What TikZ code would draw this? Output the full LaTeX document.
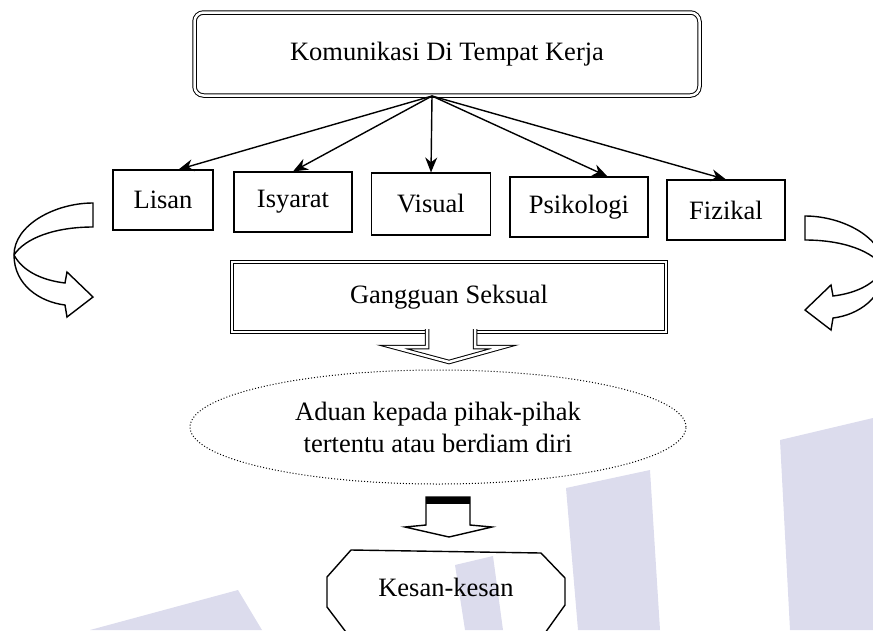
\documentclass[tikz,border=0pt]{standalone}
\usepackage{fontspec}
\setmainfont{Liberation Serif}
\usetikzlibrary{arrows.meta,shapes.geometric}
\definecolor{tanda}{RGB}{220,220,237}

\begin{document}
\begin{tikzpicture}[x=1pt,y=-1pt,line width=1.4pt,>={Stealth[length=15pt,width=12pt]},
  font=\fontsize{26.5}{32}\selectfont,
  kotak/.style={rectangle,draw,line width=1.1pt,minimum height=60pt,inner sep=0pt},
  garis2/.style={draw,double,double distance=2.5pt,line width=1pt}]
\useasboundingbox (0,0) rectangle (873,630);
% faint watermark behind the chart
\fill[tanda] (90,630) -- (238,590) -- (262,630) -- cycle;
\fill[tanda] (455,565) -- (493,556) -- (503,630) -- (465,630) -- cycle;
\fill[tanda] (566,488) -- (650,470) -- (660,630) -- (578,630) -- cycle;
\fill[tanda] (780,440) -- (873,418) -- (873,630) -- (790,630) -- cycle;
  % Define the nodes
\node[garis2,rounded corners=9pt,minimum width=505pt,minimum height=83pt] at (447,54) (kom) {Komunikasi Di Tempat Kerja};
\node[kotak,minimum width=100pt] at (163,200) (lisan) {Lisan};
\node[kotak,minimum width=118pt] at (293,202) (isyarat) {Isyarat};
\node[kotak,minimum width=119pt,minimum height=62pt] at (431,204) (visual) {Visual};
\node[kotak,minimum width=138pt] at (579,207) (psiko) {Psikologi};
\node[kotak,minimum width=118pt] at (726,210) (fizikal) {Fizikal};
\node[garis2,minimum width=434pt,minimum height=70pt] at (449,297) (gangguan) {Gangguan Seksual};
\node[ellipse,draw,dotted,line width=1pt,minimum width=496pt,minimum height=114pt,align=center] at (438,427) (aduan) {Aduan kepada pihak-pihak\\tertentu atau berdiam diri};
\node at (446,587) (kesan) {Kesan-kesan};
\coordinate (pusat) at (432,96);
% Draw the paths
\draw[->] (pusat) -- (lisan.63);
\draw[->] (pusat) -- (isyarat.north);
\draw[->] (pusat) -- (visual.north);
\draw[->] (pusat) -- (psiko.47);
\draw[->] (pusat) -- (fizikal.north);
% block arrows
\draw[garis2,fill=white] (427,329) -- (427,347) -- (393,347) -- (449,362) -- (503,347) -- (475,347) -- (475,329);
\draw[fill=white] (426,497) -- (426,525) -- (405,527) -- (449,537) -- (492,527) -- (470,525) -- (470,497) -- cycle;
\fill (426,497) rectangle (470,504);
\draw (352,640) -- (327,607) -- (327,577) -- (351,550) -- (541,553) -- (565,578) -- (565,605) -- (540,640);
% curved arrows
\draw[fill=white] (93,203) .. controls (55,203) and (14,225) .. (14,255) .. controls (14,285) and (40,302) .. (65,305) -- (67,317) -- (93,297) -- (67,272) -- (65,283) .. controls (40,280) and (22,270) .. (14,255) .. controls (25,238) and (55,227) .. (93,227) -- cycle;
\draw[fill=white,shift={(898,13)},xscale=-1] (93,203) .. controls (55,203) and (14,225) .. (14,255) .. controls (14,285) and (40,302) .. (65,305) -- (67,317) -- (93,297) -- (67,272) -- (65,283) .. controls (40,280) and (22,270) .. (14,255) .. controls (25,238) and (55,227) .. (93,227) -- cycle;
\end{tikzpicture}
\end{document}
